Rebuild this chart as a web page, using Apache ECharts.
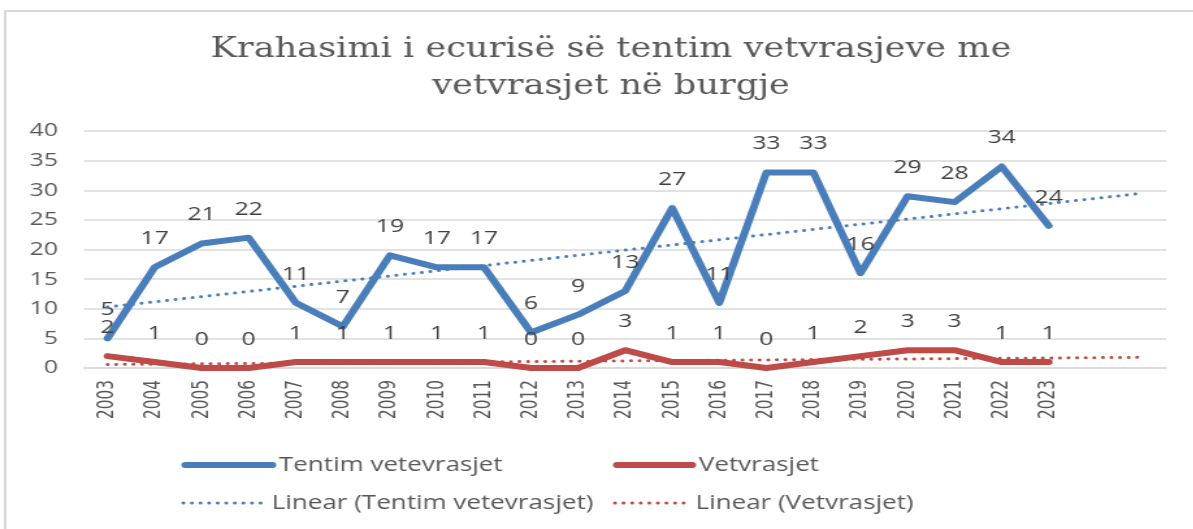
<!DOCTYPE html>
<html>
<head>
<meta charset="utf-8">
<script src="https://cdn.jsdelivr.net/npm/echarts@6/dist/echarts.min.js"></script>
<style>
html,body{margin:0;padding:0;background:#fff;overflow:hidden;width:1193px;height:529px;}
/* the reference is a horizontally stretched picture: draw at 918px and stretch by 1.3 */
#c{width:918px;height:529px;transform:scaleX(1.3);transform-origin:0 0;}
</style>
</head>
<body>
<div id="c"></div>
<script>
var years = ['2003','2004','2005','2006','2007','2008','2009','2010','2011','2012','2013','2014','2015','2016','2017','2018','2019','2020','2021','2022','2023','',''];
var tentim = [5,17,21,22,11,7,19,17,17,6,9,13,27,11,33,33,16,29,28,34,24];
var vetvrasjet = [2,1,0,0,1,1,1,1,1,0,0,3,1,1,0,1,2,3,3,1,1];
// trendline end values (at 2003 and two periods after 2023)
var trendTentim = [10.3, 29.5];
var trendVet = [0.6, 1.8];
var titleText = 'Krahasimi i ecurisë së tentim vetvrasjeve me\nvetvrasjet në burgje';
var names = ['Tentim vetevrasjet','Vetvrasjet','Linear (Tentim vetevrasjet)','Linear (Vetvrasjet)'];

function trendSeries(ends){
  var arr = years.map(function(){return null;});
  arr[0] = ends[0];
  arr[years.length-1] = ends[1];
  return arr;
}
var blue = '#4a7ebb', red = '#be4b48';
var sans = '"Open Sans", "DejaVu Sans", sans-serif';
var dots = [0.1, 6.5];
var chart = echarts.init(document.getElementById('c'));
var labelStyle = {show:true, position:'top', distance:19, color:'#404040', fontSize:19, fontFamily:sans};
function legend(i, left, top, w){
  var solid = i < 2;
  return {data:[names[i]], left:left, top:top, padding:0, itemWidth:w, itemHeight:8, itemGap:0,
    textStyle:{color:'#595959', fontSize:20, fontFamily:sans},
    itemStyle:{opacity:0},
    lineStyle: solid ? {width:6, cap:'round'} : {width:3, cap:'round', type:dots},
    selectedMode:false};
}
chart.setOption({
  animation:false,
  title:{text:titleText, left:465, top:26, textAlign:'center',
    textStyle:{fontFamily:'"DejaVu Serif", "Liberation Serif", serif', fontWeight:'normal', fontSize:27, color:'#595959', lineHeight:37}},
  graphic:[{type:'rect', shape:{x:4,y:11,width:1300,height:600}, style:{fill:'none', stroke:'#d9d9d9', lineWidth:2}, silent:true}],
  grid:{left:64.6, right:20.8, top:131, bottom:161},
  legend:[legend(0,139.5,455,67), legend(1,471.5,455,58), legend(2,139.5,493,63), legend(3,471.5,493,57)],
  xAxis:{type:'category', data:years, boundaryGap:true,
    axisLine:{lineStyle:{color:'#d9d9d9', width:1.5}}, axisTick:{show:false},
    axisLabel:{rotate:90, interval:0, margin:12, color:'#595959', fontSize:17, fontFamily:'"Liberation Sans Narrow", "DejaVu Sans Condensed", sans-serif'}},
  yAxis:{type:'value', min:0, max:40, interval:5,
    axisLine:{show:false}, axisTick:{show:false},
    splitLine:{lineStyle:{color:'#d9d9d9', width:1.5}},
    axisLabel:{margin:20, color:'#595959', fontSize:19, fontFamily:sans}},
  series:[
    {name:names[2], type:'line', data:trendSeries(trendTentim), connectNulls:true, symbol:'none', z:3,
      lineStyle:{color:blue, width:3, type:dots, cap:'round'}, itemStyle:{color:blue}},
    {name:names[3], type:'line', data:trendSeries(trendVet), connectNulls:true, symbol:'none', z:3,
      lineStyle:{color:red, width:3, type:dots, cap:'round'}, itemStyle:{color:red}},
    {name:names[0], type:'line', data:tentim, symbol:'circle', symbolSize:0.1, z:2,
      lineStyle:{color:blue, width:6, cap:'round', join:'round'}, itemStyle:{color:blue}, label:labelStyle},
    {name:names[1], type:'line', data:vetvrasjet, symbol:'circle', symbolSize:0.1, z:2,
      lineStyle:{color:red, width:6, cap:'round', join:'round'}, itemStyle:{color:red}, label:labelStyle}
  ]
});
</script>
</body>
</html>
